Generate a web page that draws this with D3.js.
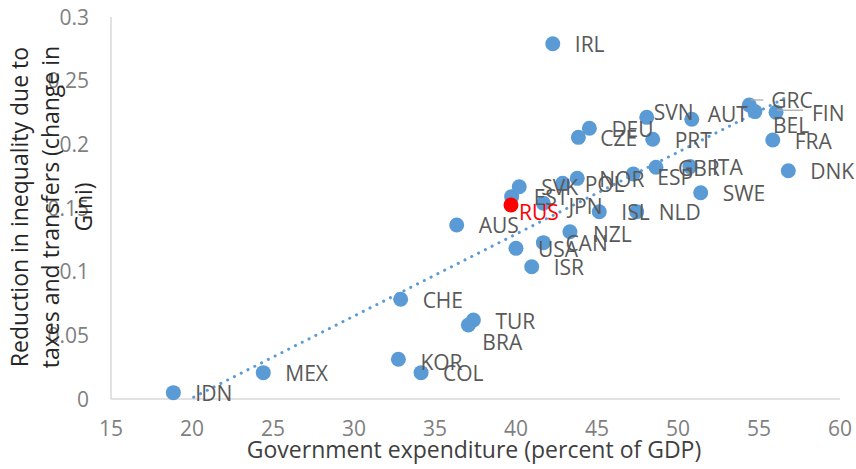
<!DOCTYPE html>
<html lang="en">
<head>
<meta charset="UTF-8" />
<title>Government expenditure vs reduction in inequality</title>
<script src="https://d3js.org/d3.v7.min.js"></script>
<style>
  body { margin: 0; background: #fff; overflow: hidden; }
  svg { font-family: "Open Sans", sans-serif; }
</style>
</head>
<body>
<svg id="chart" width="856" height="469"></svg>
<script>
// data
const countries   = ["IRL","CZE","DEU","SVN","PRT","AUT","GRC","BEL","FIN","FRA","DNK","SWE","ITA","GBR","ESP","NOR","POL","SVK","EST","RUS","JPN","ISL","NLD","AUS","NZL","CAN","USA","ISR","CHE","TUR","BRA","KOR","COL","MEX","IDN"];
const expenditure = [42.27,43.85,44.53,48.07,48.44,50.85,54.40,54.75,56.05,55.85,56.81,51.40,50.74,48.64,47.24,43.78,42.88,40.20,39.73,39.69,41.69,45.14,47.45,36.34,43.33,41.69,40.00,40.97,32.88,37.37,37.06,32.74,34.14,24.40,18.85];
const giniDrop    = [0.279,0.2055,0.2126,0.2212,0.204,0.2197,0.2309,0.2257,0.2252,0.2034,0.1793,0.162,0.1825,0.182,0.1767,0.1733,0.1694,0.1667,0.1589,0.1524,0.1537,0.1471,0.1471,0.1367,0.1314,0.1228,0.1183,0.1039,0.0783,0.062,0.0581,0.0312,0.0207,0.0207,0.005];
const highlight   = ["RUS"];
const xTicks = [15,20,25,30,35,40,45,50,55,60];
const yTicks = [0,0.05,0.1,0.15,0.2,0.25,0.3];

// label nudges (px): [dx to label start, dy of label centre]
const labelNudge = {
  SVN:[7,-5], AUT:[16,-5], GRC:[22,-5], FIN:[36,1], BEL:[18,14], RUS:[8,7],
  BRA:[14,17], JPN:[25,3], NZL:[23,3], ESP:[24,3], KOR:[22,3]
};
const leaders = { GRC:[1,14,-5], FIN:[1,27,-2] };

const points = countries.map((c, i) => ({ name: c, x: expenditure[i], y: giniDrop[i] }));

const svg = d3.select("#chart");
const blue = "#5B9BD5";

const x = d3.scaleLinear().domain([15, 60]).range([111, 840]);
const y = d3.scaleLinear().domain([0, 0.3]).range([399, 17]);

// axes lines
svg.append("line").attr("x1", x(15)).attr("x2", x(15)).attr("y1", y(0)).attr("y2", y(0.3))
  .attr("stroke", "#d9d9d9").attr("stroke-width", 1.5);
svg.append("line").attr("x1", x(15)).attr("x2", x(60)).attr("y1", y(0)).attr("y2", y(0))
  .attr("stroke", "#d9d9d9").attr("stroke-width", 1.5);

// tick labels
svg.append("g").selectAll("text").data(yTicks).join("text")
  .attr("x", 89).attr("y", d => y(d)).attr("dy", "0.36em")
  .attr("text-anchor", "end").attr("font-size", 21).attr("fill", "#7f7f7f")
  .text(d => d3.format("~g")(d));

svg.append("g").selectAll("text").data(xTicks).join("text")
  .attr("x", d => x(d)).attr("y", 428).attr("dy", "0.36em")
  .attr("text-anchor", "middle").attr("font-size", 21).attr("fill", "#7f7f7f")
  .text(d => d);

// axis titles
svg.append("text").attr("x", 474).attr("y", 458)
  .attr("text-anchor", "middle").attr("font-size", 23).attr("fill", "#404040")
  .text("Government expenditure (percent of GDP)");

const yTitle = ["Reduction in inequality due to", "taxes and transfers (change in", "Gini)"];
svg.append("g").selectAll("text").data(yTitle).join("text")
  .attr("transform", (d, i) => `translate(${[28, 59, 92][i]},207) rotate(-90)`)
  .attr("text-anchor", "middle").attr("font-size", 23).attr("fill", "#262626")
  .text(d => d);

// linear trendline from the data
const mx = d3.mean(points, d => d.x), my = d3.mean(points, d => d.y);
const slope = d3.sum(points, d => (d.x - mx) * (d.y - my)) / d3.sum(points, d => (d.x - mx) ** 2);
const icpt = my - slope * mx;
const xr = d3.extent(points, d => d.x);

svg.append("clipPath").attr("id", "plot").append("rect")
  .attr("x", x(15)).attr("y", y(0.3)).attr("width", x(60) - x(15)).attr("height", y(0) - y(0.3));

svg.append("line")
  .attr("clip-path", "url(#plot)")
  .attr("x1", x(xr[0])).attr("y1", y(icpt + slope * xr[0]))
  .attr("x2", x(xr[1])).attr("y2", y(icpt + slope * xr[1]))
  .attr("stroke", blue).attr("stroke-width", 3)
  .attr("stroke-linecap", "round").attr("stroke-dasharray", "0.1 7.5");

// points
svg.append("g").selectAll("circle").data(points).join("circle")
  .attr("cx", d => x(d.x)).attr("cy", d => y(d.y)).attr("r", 7.5)
  .attr("fill", d => highlight.includes(d.name) ? "#ff0000" : blue);

// leader lines
svg.append("g").selectAll("line").data(points.filter(d => leaders[d.name])).join("line")
  .attr("x1", d => x(d.x) + leaders[d.name][0]).attr("x2", d => x(d.x) + leaders[d.name][1])
  .attr("y1", d => y(d.y) + leaders[d.name][2]).attr("y2", d => y(d.y) + leaders[d.name][2])
  .attr("stroke", "#a6a6a6").attr("stroke-width", 1.2);

// data labels
svg.append("g").selectAll("text").data(points).join("text")
  .attr("x", d => x(d.x) + (labelNudge[d.name] || [22, 1])[0])
  .attr("y", d => y(d.y) + (labelNudge[d.name] || [22, 1])[1])
  .attr("dy", "0.36em").attr("font-size", 21)
  .attr("fill", d => highlight.includes(d.name) ? "#ff0000" : "#595959")
  .text(d => d.name);
</script>
</body>
</html>
